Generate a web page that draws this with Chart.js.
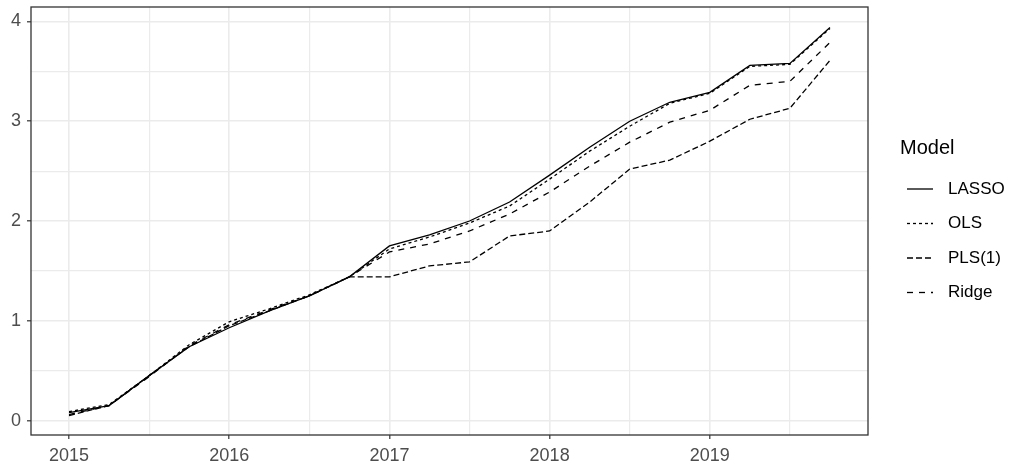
<!DOCTYPE html>
<html>
<head>
<meta charset="utf-8">
<script src="https://cdn.jsdelivr.net/npm/chart.js@4.4.1/dist/chart.umd.min.js"></script>
<style>
html,body{margin:0;padding:0;background:#fff;}
#wrap{width:1013px;height:471px;position:relative;}
</style>
</head>
<body>
<div id="wrap"><canvas id="c" width="1013" height="471"></canvas></div>
<script>
// ---- data ----
const quarters = [2015, 2015.25, 2015.5, 2015.75, 2016, 2016.25, 2016.5, 2016.75,
                  2017, 2017.25, 2017.5, 2017.75, 2018, 2018.25, 2018.5, 2018.75,
                  2019, 2019.25, 2019.5, 2019.75];
const lasso = [0.08, 0.15, 0.45, 0.74, 0.93, 1.10, 1.25, 1.44, 1.75, 1.86,
               2.00, 2.19, 2.46, 2.74, 3.00, 3.19, 3.29, 3.56, 3.58, 3.94];
const ols   = [0.09, 0.16, 0.45, 0.76, 0.99, 1.12, 1.26, 1.44, 1.72, 1.84,
               1.98, 2.15, 2.42, 2.70, 2.95, 3.18, 3.28, 3.55, 3.57, 3.93];
const pls1  = [0.05, 0.15, 0.45, 0.74, 0.95, 1.10, 1.25, 1.44, 1.44, 1.55,
               1.59, 1.85, 1.90, 2.19, 2.52, 2.61, 2.80, 3.02, 3.13, 3.61];
const ridge = [0.06, 0.15, 0.44, 0.75, 0.96, 1.11, 1.25, 1.44, 1.69, 1.77,
               1.90, 2.07, 2.29, 2.55, 2.79, 2.99, 3.11, 3.36, 3.40, 3.79];
const seriesNames = ['LASSO', 'OLS', 'PLS(1)', 'Ridge'];
const legendTitle = 'Model';
const xGridValues = [2015, 2015.5, 2016, 2016.5, 2017, 2017.5, 2018, 2018.5, 2019, 2019.5];
const xMajorValues = [2015, 2016, 2017, 2018, 2019];
const xTickLabels = ['2015', '2016', '2017', '2018', '2019'];
const yGridValues = [0, 0.5, 1, 1.5, 2, 2.5, 3, 3.5, 4];
const yMajorValues = [0, 1, 2, 3, 4];
const yTickLabels = ['0', '1', '2', '3', '4'];

// ---- styles ----
const FONT = '"Liberation Sans", Arial, sans-serif';
const dashes = [[], [3, 3], [6, 3], [6, 6]];
const seriesValues = [lasso, ols, pls1, ridge];

const datasets = seriesNames.map((name, i) => ({
  label: name,
  data: quarters.map((q, j) => ({x: q, y: seriesValues[i][j]})),
  borderColor: '#000000',
  backgroundColor: '#000000',
  borderWidth: 1.3,
  borderDash: dashes[i],
  pointRadius: 0,
  tension: 0,
  fill: false
}));

const isMajor = (arr, v) => arr.some(m => Math.abs(m - v) < 1e-9);

const panelBorder = {
  id: 'panelBorder',
  afterDatasetsDraw(chart) {
    const a = chart.chartArea, ctx = chart.ctx;
    ctx.save();
    ctx.strokeStyle = '#333333';
    ctx.lineWidth = 1.3;
    ctx.setLineDash([]);
    ctx.strokeRect(a.left, a.top, a.right - a.left, a.bottom - a.top);
    ctx.restore();
  }
};

const ggLegend = {
  id: 'ggLegend',
  afterDraw(chart) {
    const a = chart.chartArea, ctx = chart.ctx;
    ctx.save();
    ctx.fillStyle = '#000000';
    ctx.textBaseline = 'middle';
    ctx.textAlign = 'left';
    ctx.font = '20px ' + FONT;
    ctx.fillText(legendTitle, a.right + 32, 148);
    chart.data.datasets.forEach((ds, i) => {
      const y = 189 + i * 34.5;
      ctx.beginPath();
      ctx.setLineDash(ds.borderDash || []);
      ctx.lineWidth = ds.borderWidth;
      ctx.strokeStyle = ds.borderColor;
      ctx.moveTo(a.right + 39, y);
      ctx.lineTo(a.right + 65, y);
      ctx.stroke();
      ctx.setLineDash([]);
      ctx.font = '17px ' + FONT;
      ctx.fillStyle = '#000000';
      ctx.fillText(ds.label, a.right + 80, y);
    });
    ctx.restore();
  }
};

new Chart(document.getElementById('c'), {
  type: 'line',
  data: { datasets },
  plugins: [panelBorder, ggLegend],
  options: {
    responsive: false,
    devicePixelRatio: 1,
    animation: false,
    layout: { padding: { top: 7, right: 145, left: 0, bottom: 0 } },
    plugins: { legend: { display: false }, tooltip: { enabled: false } },
    scales: {
      x: {
        type: 'linear',
        min: 2014.7625,
        max: 2019.9875,
        afterBuildTicks: s => { s.ticks = xGridValues.map(v => ({ value: v })); },
        afterFit: s => { s.height = 36; s.paddingLeft = 0; s.paddingRight = 0; },
        border: { display: false },
        grid: {
          color: '#ebebeb',
          lineWidth: c => (c.tick && isMajor(xMajorValues, c.tick.value)) ? 1.6 : 1.2,
          tickLength: 4,
          tickWidth: 1.2,
          tickColor: c => (c.tick && isMajor(xMajorValues, c.tick.value)) ? '#333333' : 'rgba(0,0,0,0)'
        },
        ticks: {
          autoSkip: false,
          maxRotation: 0,
          padding: 6,
          color: '#4d4d4d',
          font: { family: FONT, size: 18 },
          callback: v => { const i = xMajorValues.findIndex(m => Math.abs(m - v) < 1e-9); return i >= 0 ? xTickLabels[i] : ''; }
        }
      },
      y: {
        type: 'linear',
        min: -0.145,
        max: 4.145,
        afterBuildTicks: s => { s.ticks = yGridValues.map(v => ({ value: v })); },
        afterFit: s => { s.width = 31; s.paddingTop = 0; s.paddingBottom = 0; },
        border: { display: false },
        grid: {
          color: '#ebebeb',
          lineWidth: c => (c.tick && isMajor(yMajorValues, c.tick.value)) ? 1.6 : 1.2,
          tickLength: 4,
          tickWidth: 1.2,
          tickColor: c => (c.tick && isMajor(yMajorValues, c.tick.value)) ? '#333333' : 'rgba(0,0,0,0)'
        },
        ticks: {
          autoSkip: false,
          padding: 6,
          color: '#4d4d4d',
          font: { family: FONT, size: 18 },
          callback: v => { const i = yMajorValues.findIndex(m => Math.abs(m - v) < 1e-9); return i >= 0 ? yTickLabels[i] : ''; }
        }
      }
    }
  }
});
</script>
</body>
</html>
